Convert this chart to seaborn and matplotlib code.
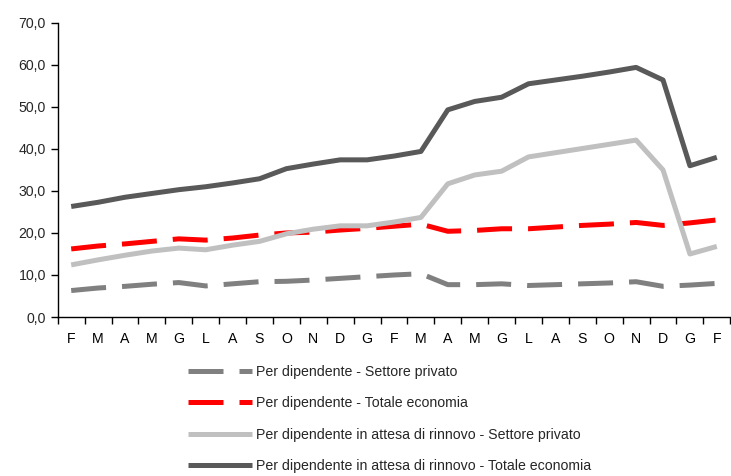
import numpy as np
import pandas as pd
import matplotlib
matplotlib.use("Agg")
import matplotlib.pyplot as plt
import seaborn as sns
from matplotlib.ticker import FuncFormatter, FixedLocator

months = ["F", "M", "A", "M", "G", "L", "A", "S", "O", "N", "D", "G",
          "F", "M", "A", "M", "G", "L", "A", "S", "O", "N", "D", "G", "F"]

priv = [6.3, 6.9, 7.3, 7.8, 8.2, 7.4, 7.9, 8.4, 8.5, 8.8, 9.2, 9.6, 10.0,
        10.3, 7.7, 7.7, 7.9, 7.5, 7.7, 7.9, 8.1, 8.4, 7.3, 7.6, 8.0]
tot = [16.2, 16.9, 17.4, 18.0, 18.6, 18.3, 18.8, 19.5, 20.0, 20.2, 20.7, 21.1, 21.6,
       22.1, 20.4, 20.6, 21.0, 21.0, 21.4, 21.8, 22.1, 22.5, 21.8, 22.4, 23.1]
rinn_priv = [12.4, 13.6, 14.7, 15.7, 16.4, 16.0, 17.1, 18.0, 19.8, 20.9, 21.7, 21.7, 22.6,
             23.7, 31.7, 33.8, 34.7, 38.1, 39.1, 40.1, 41.1, 42.1, 35.0, 15.0, 16.8]
rinn_tot = [26.3, 27.3, 28.5, 29.4, 30.3, 31.0, 31.9, 32.9, 35.3, 36.4, 37.4, 37.4, 38.3,
            39.4, 49.3, 51.3, 52.3, 55.5, 56.4, 57.3, 58.3, 59.4, 56.4, 36.0, 38.0]

labels = ["Per dipendente - Settore privato",
          "Per dipendente - Totale economia",
          "Per dipendente in attesa di rinnovo - Settore privato",
          "Per dipendente in attesa di rinnovo - Totale economia"]

sns.set_style("white")
plt.rcParams['font.family'] = ['Liberation Sans', 'DejaVu Sans']

x = np.arange(len(months))
df = pd.DataFrame({"x": np.tile(x, 4),
                   "val": priv + tot + rinn_priv + rinn_tot,
                   "serie": np.repeat(labels, len(months))})

fig = plt.figure(figsize=(7.31, 4.76), dpi=100)
ax = fig.add_axes([0.079, 0.334, 0.92, 0.618])

palette = {labels[0]: "#808080", labels[1]: "#ff0000",
           labels[2]: "#c0c0c0", labels[3]: "#595959"}
dashes = {labels[0]: (7, 3.2), labels[1]: (7, 3.2), labels[2]: "", labels[3]: ""}
sns.lineplot(data=df, x="x", y="val", hue="serie", style="serie",
             palette=palette, dashes=dashes, linewidth=3.6, ax=ax)
for ln in ax.get_lines():
    ln.set_solid_capstyle("butt")
    ln.set_dash_capstyle("butt")

fs = 10.2
ax.set_xlim(-0.5, len(months) - 0.5)
ax.set_ylim(0, 70)
ax.set_yticks(np.arange(0, 71, 10))
ax.yaxis.set_major_formatter(FuncFormatter(lambda v, p: f"{v:.1f}".replace(".", ",")))
ax.set_xticks(x)
ax.set_xticklabels(months)
ax.xaxis.set_minor_locator(FixedLocator(np.arange(-0.5, len(months), 1)))
ax.tick_params(axis="x", which="major", length=0, pad=11, labelsize=fs, colors="#000000")
ax.tick_params(axis="x", which="minor", length=5, width=1, color="#000000", direction="out", bottom=True)
ax.tick_params(axis="y", length=5, width=1, color="#000000", direction="out", left=True, labelsize=fs)
ax.set_xlabel("")
ax.set_ylabel("")
sns.despine(ax=ax)
for s in ["left", "bottom"]:
    ax.spines[s].set_color("#000000")
    ax.spines[s].set_linewidth(1)

ax.legend(loc="upper left", bbox_to_anchor=(0.25, 0.245), bbox_transform=fig.transFigure,
          frameon=False, fontsize=fs, handlelength=4.5, handletextpad=0.3,
          labelspacing=1.22, borderaxespad=0)

fig.savefig("out.png", dpi=100)
